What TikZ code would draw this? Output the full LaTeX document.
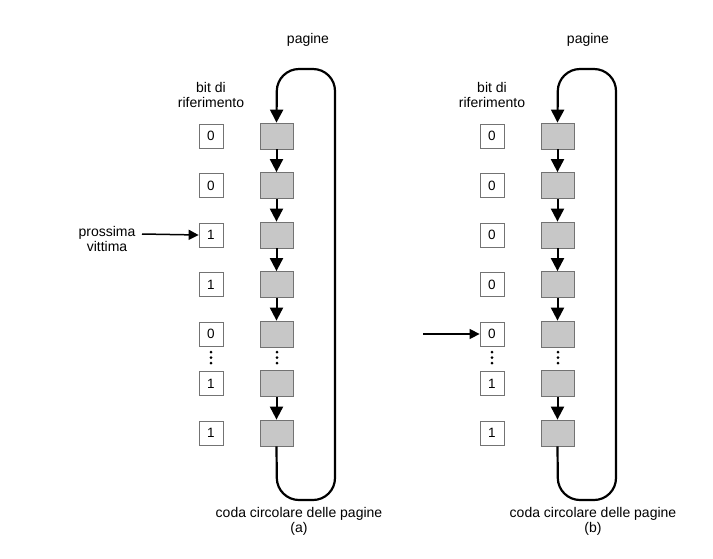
\documentclass[tikz,border=0pt]{standalone}
\usepackage{fontspec}
\setmainfont{Liberation Sans}
\usetikzlibrary{arrows.meta}
\begin{document}
\begin{tikzpicture}[x=1pt,y=-1pt,
  page/.style={draw=black!55, fill=black!22, minimum width=33pt, minimum height=26pt, inner sep=0pt, line width=0.8pt},
  bitbox/.style={draw=black!55, fill=white, minimum width=24pt, minimum height=24pt, inner sep=0pt, line width=0.8pt, font=\fontsize{13.5}{15}\selectfont},
  lbl/.style={font=\fontsize{14}{15}\selectfont, align=center, inner sep=0pt},
  link/.style={-{Triangle[width=13pt,length=13pt]}, line width=2pt},
  ring/.style={line width=2.2pt, rounded corners=22pt, -{Triangle[width=13pt,length=13pt]}},
  ptr/.style={-{Triangle[width=10pt,length=10pt]}, line width=1.5pt},
  dot/.style={fill=black}]
\useasboundingbox (0,0) rectangle (713,558);
\foreach \p/\ox/\bits in {a/0/{0,0,1,1,0,1,1}, b/281/{0,0,0,0,0,1,1}}{
  \foreach \b [count=\i] in \bits {
    \node[page] (\p-pg-\i) at (276.5+\ox, {136+49.5*(\i-1)}) {};
    \node[bitbox] (\p-bit-\i) at (211+\ox, {136+49.5*(\i-1)}) {\b};
  }
  \foreach \i/\j in {1/2,2/3,3/4,4/5,6/7}
    \draw[link] (\p-pg-\i) -- (\p-pg-\j);
  \foreach \yy in {352,357.5,363}{
    \fill[dot] (211+\ox,\yy) circle (1.5pt);
    \fill[dot] (277+\ox,\yy) circle (1.5pt);
  }
  \coordinate (\p-c1) at (277+\ox,500);
  \coordinate (\p-c2) at (335+\ox,500);
  \coordinate (\p-c3) at (335+\ox,69);
  \coordinate (\p-c4) at (277+\ox,69);
  \draw[ring] (\p-pg-7.south) -- (\p-c1) -- (\p-c2) -- (\p-c3) -- (\p-c4) -- (\p-pg-1.north);
  \node[lbl] (\p-bitlbl) at (211+\ox,95) {bit di\\riferimento};
}
\node[lbl] (a-pag) at (308,40) {pagine};
\node[lbl] (b-pag) at (588,40) {pagine};
\node[lbl] (a-coda) at (299,521) {coda circolare delle pagine\\(a)};
\node[lbl] (b-coda) at (593,521) {coda circolare delle pagine\\(b)};
\node[lbl] (pv) at (107,239) {prossima\\vittima};
\coordinate (a-ptr) at (142,234);
\coordinate (b-ptr) at (423,334);
\draw[ptr] (a-ptr) -- (a-bit-3.west);
\draw[ptr] (b-ptr) -- (b-bit-5.west);
\end{tikzpicture}
\end{document}
